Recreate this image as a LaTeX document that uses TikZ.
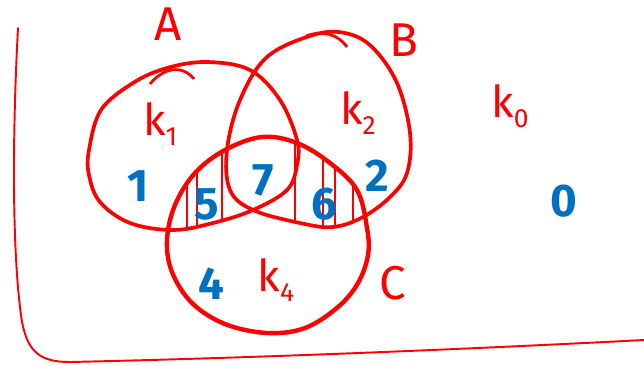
\documentclass[tikz,border=0pt]{standalone}
\usepackage{fontspec}
\setmainfont{Fira Sans}
\usepackage{xcolor}
\usepackage{tikz}
\usetikzlibrary{positioning}

\definecolor{penred}{RGB}{255,0,0}
\definecolor{penblue}{RGB}{0,112,192}

% the three hand drawn sets, in pixel coordinates
\newcommand{\pathA}{plot[smooth cycle, tension=0.6] coordinates {(89,150) (101,110) (133,83) (167,68) (207,62) (250,70) (280,100) (297,140) (297,165) (287,190) (253,210) (213,223) (173,230) (130,223) (100,202) (89,175)}}
\newcommand{\pathB}{plot[smooth cycle, tension=0.6] coordinates {(227,150) (240,100) (267,57) (313,35) (345,33) (372,47) (397,83) (410,133) (407,173) (390,197) (363,217) (333,227) (300,223) (253,210) (230,190)}}
\newcommand{\pathC}{plot[smooth cycle, tension=0.6] coordinates {(262,137) (297,143) (330,163) (357,190) (367,228) (368,255) (358,283) (338,307) (305,328) (267,333) (225,324) (192,303) (172,272) (167,240) (175,205) (195,173) (225,150)}}
\newcommand{\sub}[1]{\raisebox{-0.45ex}{\fontsize{15}{15}\selectfont #1}}

\begin{document}
\begin{tikzpicture}[x=0.02cm, y=-0.02cm,
  setline/.style={draw=penred, line width=2.1pt, line join=round},
  hatch/.style={draw=penred, line width=0.8pt},
  setname/.style={text=penred, font=\fontsize{27}{27}\selectfont},
  kname/.style={text=penred, font=\fontsize{25}{25}\selectfont},
  cnt/.style={text=penblue, font=\bfseries\fontsize{26}{26}\selectfont}]
  \useasboundingbox (0,0) rectangle (644,365);

  % universe frame
  \draw[penred, line width=1.1pt, line cap=round] (18,28) .. controls (13,120) and (11,250) .. (22,322)
    .. controls (28,352) and (40,362) .. (70,362) .. controls (250,358) and (450,350) .. (644,340);

  % hatching of the two marked regions
  \begin{scope}
    \clip \pathA;
    \clip \pathC;
    \foreach \x in {187,197,222}
      \draw[hatch] (\x,120) -- (\x,240);
  \end{scope}
  \begin{scope}
    \clip \pathB;
    \clip \pathC;
    \foreach \x in {295,323,335,353}
      \draw[hatch] (\x,120) -- (\x,240);
  \end{scope}

  % sets
  \draw[setline] \pathA;
  \draw[setline] \pathB;
  \draw[setline, line width=2.5pt] \pathC;
  \draw[setline, line width=1.6pt] (150,84) .. controls (163,68) and (182,64) .. (194,79);
  \draw[setline, line width=1.6pt] (306,36) .. controls (322,30) and (338,34) .. (347,47);

  % names
  \node[setname] (nameA) at (168,24) {A};
  \node[setname] (nameB) at (404,40) {B};
  \node[setname] (nameC) at (393,283) {C};
  \node[kname] (k1) at (160,124) {k\sub{1}};
  \node[kname] (k2) at (358,113) {k\sub{2}};
  \node[kname] (k0) at (510,106) {k\sub{0}};
  \node[kname] (k4) at (276,280) {k\sub{4}};

  % counts
  \node[cnt] (c1) at (138,186) {1};
  \node[cnt] (c5) at (207,204) {5};
  \node[cnt] (c7) at (263,180) {7};
  \node[cnt] (c6) at (324,204) {6};
  \node[cnt] (c2) at (377,176) {2};
  \node[cnt] (c4) at (211,284) {4};
  \node[cnt] (c0) at (564,201) {0};
\end{tikzpicture}
\end{document}
